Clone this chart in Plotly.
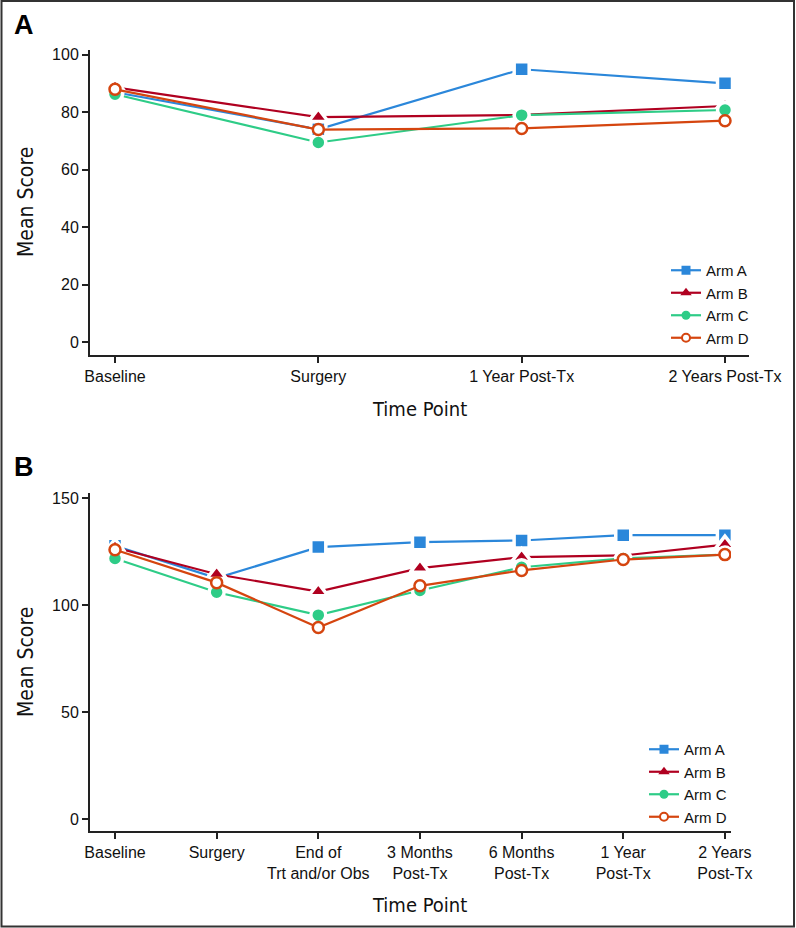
import plotly.graph_objects as go

W, H = 796, 928

# ---- Data ----
cats_a = ["Baseline", "Surgery", "1 Year Post-Tx", "2 Years Post-Tx"]
a_arm_a = [87.0, 74.1, 95.0, 90.1]
a_arm_b = [88.7, 78.3, 79.1, 82.2]
a_arm_c = [86.3, 69.5, 79.0, 80.8]
a_arm_d = [88.0, 74.0, 74.4, 77.1]

cats_b = ["Baseline", "Surgery", "End of<br>Trt and/or Obs", "3 Months<br>Post-Tx",
          "6 Months<br>Post-Tx", "1 Year<br>Post-Tx", "2 Years<br>Post-Tx"]
b_arm_a = [127.8, 112.7, 127.2, 129.5, 130.3, 132.8, 132.8]
b_arm_b = [127.0, 114.5, 106.4, 117.4, 122.5, 123.3, 128.4]
b_arm_c = [121.9, 106.1, 95.4, 106.9, 117.8, 121.9, 123.7]
b_arm_d = [126.0, 110.6, 89.6, 109.1, 116.3, 121.4, 123.7]

arm_names = ["Arm A", "Arm B", "Arm C", "Arm D"]
colors = ["#2B87DA", "#B00020", "#2ECC87", "#D5450F"]
symbols = ["square", "triangle-up", "circle", "circle"]
sizes = [15, 17, 15, 11]

FONT = "Liberation Sans, Arial, sans-serif"
TFONT = "DejaVu Sans Condensed, Liberation Sans Narrow, Liberation Sans, sans-serif"

fig = go.Figure()

def add_traces(cats, series, xa, ya, legend):
    x = list(range(len(cats)))
    for i, (name, y) in enumerate(zip(arm_names, series)):
        if i == 3:
            marker = dict(symbol="circle", size=sizes[i], color="white",
                          line=dict(color=colors[i], width=2.5))
        else:
            marker = dict(symbol=symbols[i], size=sizes[i], color=colors[i],
                          line=dict(color="white", width=3.5))
        fig.add_trace(go.Scatter(
            x=x, y=y, name=name, mode="lines+markers", xaxis=xa, yaxis=ya,
            line=dict(color=colors[i], width=2.2), marker=marker,
            showlegend=False))
    # legend entries (no white halo, small marker)
    for i, name in enumerate(arm_names):
        if i == 3:
            lm = dict(symbol="circle", size=8, color="white",
                      line=dict(color=colors[i], width=2))
        else:
            lm = dict(symbol=symbols[i], size=9 if i != 1 else 10, color=colors[i],
                      line=dict(width=0))
        fig.add_trace(go.Scatter(
            x=[None], y=[None], name=name, mode="lines+markers", xaxis=xa, yaxis=ya,
            line=dict(color=colors[i], width=2.2), marker=lm,
            legend=legend, showlegend=True))

add_traces(cats_a, [a_arm_a, a_arm_b, a_arm_c, a_arm_d], "x", "y", "legend")
add_traces(cats_b, [b_arm_a, b_arm_b, b_arm_c, b_arm_d], "x2", "y2", "legend2")

axis_common = dict(showline=True, linecolor="#222", linewidth=2, ticks="outside",
                   ticklen=6, tickwidth=1.5, tickcolor="#222", showgrid=False,
                   zeroline=False, automargin=False,
                   tickfont=dict(family=FONT, size=16, color="#111"))

fig.update_layout(
    template="none",
    width=W, height=H, autosize=False, margin=dict(l=0, r=0, t=0, b=0, pad=0),
    paper_bgcolor="white", plot_bgcolor="white",
    xaxis=dict(domain=[90 / W, 749 / W], range=[-0.123, 3.118],
               tickvals=list(range(len(cats_a))), ticktext=cats_a, anchor="y",
               **axis_common),
    yaxis=dict(domain=[1 - 355 / H, 1 - 50 / H], range=[-4.5, 101.7],
               tickvals=[0, 20, 40, 60, 80, 100], anchor="x", **axis_common),
    xaxis2=dict(domain=[90 / W, 731 / W], range=[-0.246, 6.06],
                tickvals=list(range(len(cats_b))), ticktext=cats_b, anchor="y2",
                **axis_common),
    yaxis2=dict(domain=[1 - 831 / H, 1 - 493 / H], range=[-5.5, 152.5],
                tickvals=[0, 50, 100, 150], anchor="x2", **axis_common),
    legend=dict(x=666 / W, y=1 - 254 / H, xanchor="left", yanchor="top",
                font=dict(family=FONT, size=15, color="#111"),
                bgcolor="rgba(0,0,0,0)", borderwidth=0, tracegroupgap=0),
    legend2=dict(x=644 / W, y=1 - 733 / H, xanchor="left", yanchor="top",
                 font=dict(family=FONT, size=15, color="#111"),
                 bgcolor="rgba(0,0,0,0)", borderwidth=0, tracegroupgap=0),
    showlegend=True,
)

ann = [
    dict(text="<b>A</b>", x=24 / W, y=1 - 25 / H, font=dict(family=FONT, size=27, color="black")),
    dict(text="<b>B</b>", x=24 / W, y=1 - 467 / H, font=dict(family=FONT, size=27, color="black")),
    dict(text="Mean Score", x=26 / W, y=1 - 202 / H, textangle=-90,
         font=dict(family=TFONT, size=21, color="#111")),
    dict(text="Mean Score", x=26 / W, y=1 - 662 / H, textangle=-90,
         font=dict(family=TFONT, size=21, color="#111")),
    dict(text="Time Point", x=420 / W, y=1 - 409 / H,
         font=dict(family=TFONT, size=20, color="#111")),
    dict(text="Time Point", x=420 / W, y=1 - 905 / H,
         font=dict(family=TFONT, size=20, color="#111")),
]
for a in ann:
    fig.add_annotation(xref="paper", yref="paper", showarrow=False,
                       xanchor="center", yanchor="middle", **a)

fig.add_shape(type="rect", xref="paper", yref="paper", x0=1.5 / W, x1=1 - 2 / W,
              y0=1.5 / H, y1=1 - 1 / H, line=dict(color="#333", width=2))

fig.write_html("out.html",
               config={"displayModeBar": False},
               post_script="document.body.style.margin='0px';document.body.style.overflow='hidden';")
